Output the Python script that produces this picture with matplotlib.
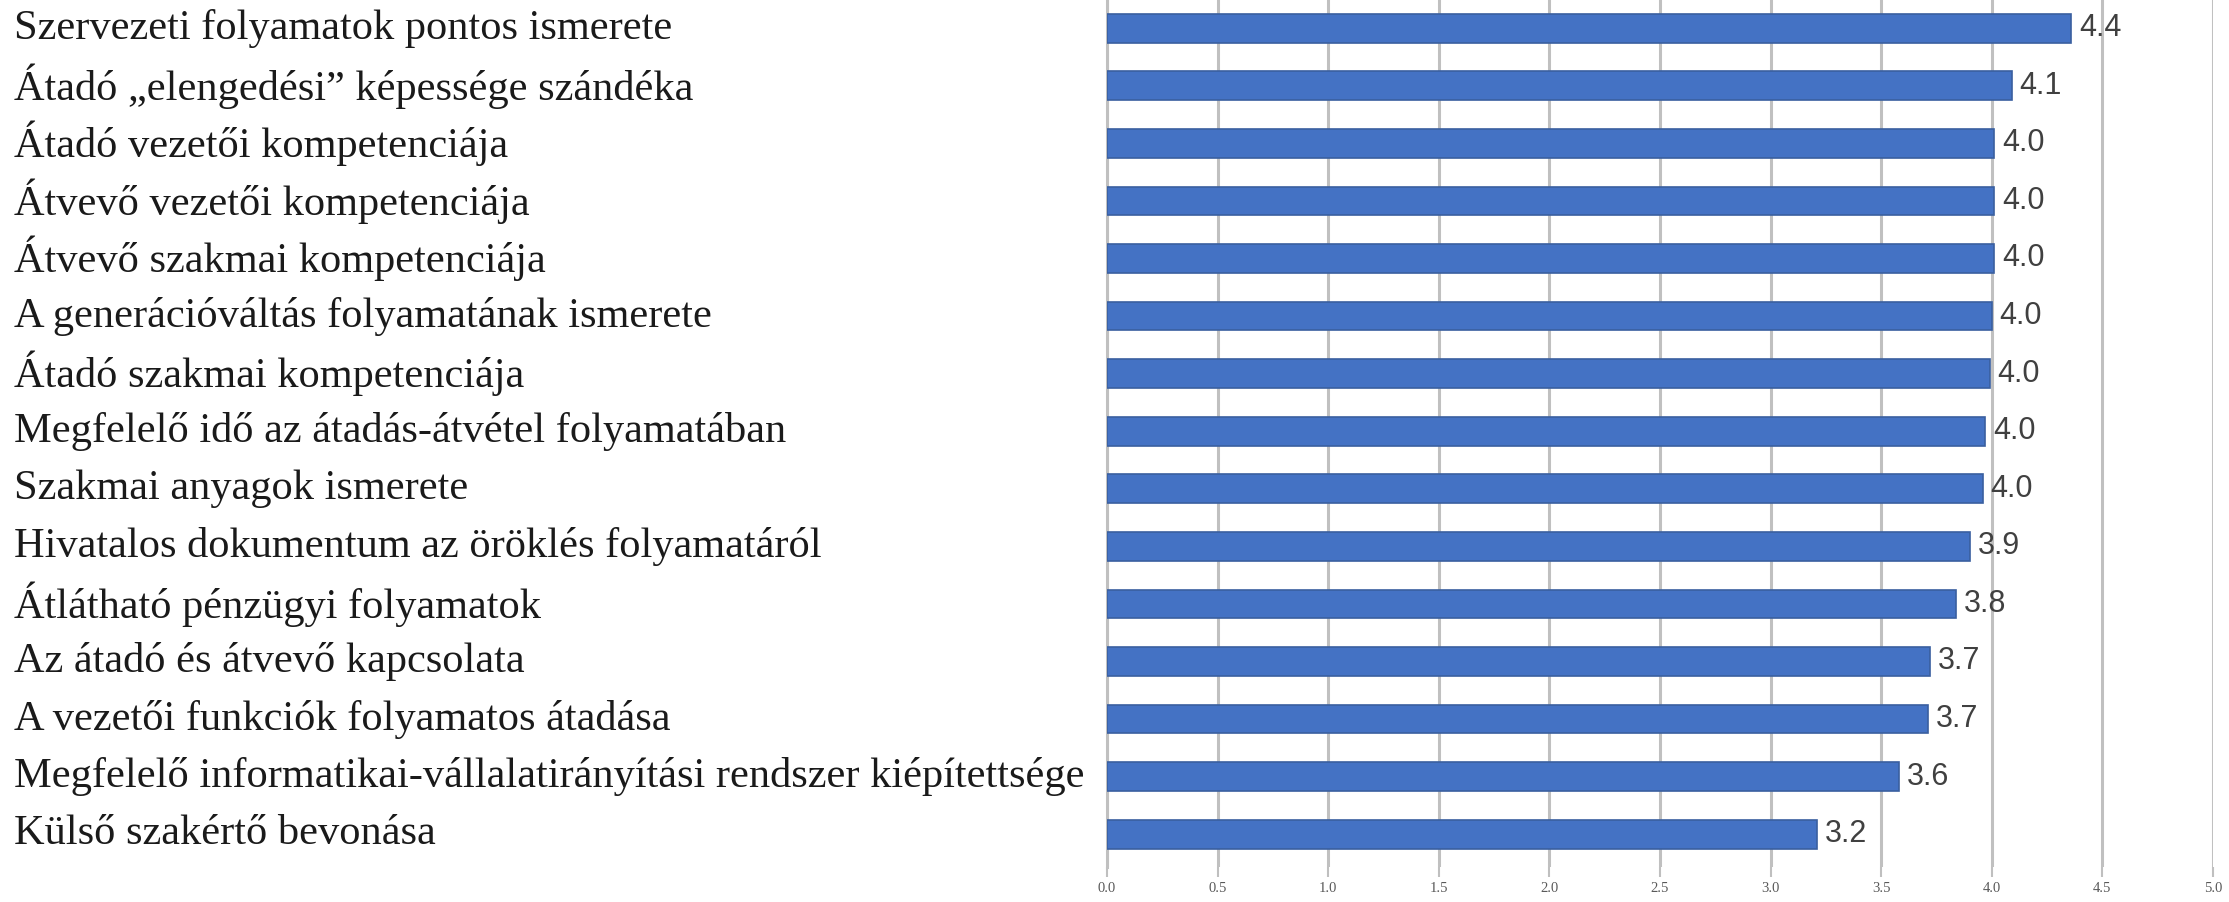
import matplotlib
matplotlib.use("Agg")
import matplotlib.pyplot as plt
from matplotlib.transforms import blended_transform_factory

categories = [
    "Szervezeti folyamatok pontos ismerete",
    "Átadó „elengedési” képessége szándéka",
    "Átadó vezetői kompetenciája",
    "Átvevő vezetői kompetenciája",
    "Átvevő szakmai kompetenciája",
    "A generációváltás folyamatának ismerete",
    "Átadó szakmai kompetenciája",
    "Megfelelő idő az átadás-átvétel folyamatában",
    "Szakmai anyagok ismerete",
    "Hivatalos dokumentum az öröklés folyamatáról",
    "Átlátható pénzügyi folyamatok",
    "Az átadó és átvevő kapcsolata",
    "A vezetői funkciók folyamatos átadása",
    "Megfelelő informatikai-vállalatirányítási rendszer kiépítettsége",
    "Külső szakértő bevonása",
]
values = [4.36, 4.09, 4.01, 4.01, 4.01, 4.00, 3.99, 3.97, 3.96, 3.90, 3.84, 3.72, 3.71, 3.58, 3.21]
xticks = [0.0, 0.5, 1.0, 1.5, 2.0, 2.5, 3.0, 3.5, 4.0, 4.5, 5.0]

W, H = 2229, 902
fig = plt.figure(figsize=(W / 100, H / 100), dpi=100)
ax = fig.add_axes([1107 / W, 1 - 867 / H, (2213 - 1107) / W, 867 / H])

ypos = list(range(len(categories)))
ax.barh(ypos, values, height=0.5, color="#4472C4", edgecolor="#3a5f9f",
        linewidth=1.2, zorder=3)

ax.set_xlim(0, 5)
ax.set_ylim(14.57, -0.49)
ax.set_xticks(xticks)
ax.set_xticklabels([f"{t:.1f}" for t in xticks], family="Liberation Serif",
                   fontsize=10.5, color="#595959")
ax.tick_params(axis="x", length=7, width=1.5, color="#bfbfbf", pad=4)
ax.set_yticks([])
ax.grid(axis="x", color="#c0c0c0", linewidth=2.2, zorder=0)
for s in ["top", "right", "bottom"]:
    ax.spines[s].set_visible(False)
ax.spines["left"].set_color("#c0c0c0")
ax.spines["left"].set_linewidth(2.2)

for y, v in zip(ypos, values):
    ax.text(v + 0.035, y, f"{v:.1f}", va="center", ha="left",
            family="Liberation Sans", fontsize=22, color="#404040", zorder=4)

trans = blended_transform_factory(fig.transFigure, ax.transData)
for y, c in zip(ypos, categories):
    ax.text(14 / W, y, c, transform=trans, va="center", ha="left",
            family="Liberation Serif", fontsize=30.5, color="#1a1a1a", clip_on=False)

fig.savefig("out.png", dpi=100, facecolor="white")
